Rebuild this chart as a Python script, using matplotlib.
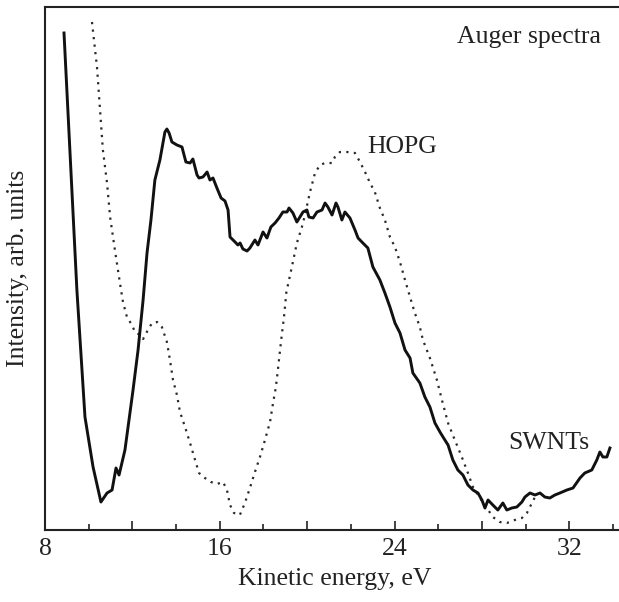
import matplotlib
matplotlib.use("Agg")
import matplotlib.pyplot as plt
from matplotlib.ticker import MultipleLocator

plt.rcParams['font.family'] = ['Liberation Serif', 'DejaVu Serif']

# SWNTs (solid) : kinetic energy (eV), intensity (arb. units)
swnt_e = [8.87, 9.46, 9.83, 10.20, 10.56, 10.84, 11.07, 11.25, 11.39, 11.66, 12.03, 12.26, 12.49,
          12.67, 12.85, 13.03, 13.26, 13.49, 13.58, 13.68, 13.81, 14.04, 14.27, 14.45, 14.64, 14.77,
          14.96, 15.05, 15.23, 15.42, 15.55, 15.69, 15.87, 16.06, 16.24, 16.38, 16.47, 16.70, 16.83,
          16.93, 17.06, 17.25, 17.38, 17.61, 17.75, 17.98, 18.16, 18.34, 18.53, 18.71, 18.89, 19.08,
          19.17, 19.35, 19.53, 19.67, 19.81, 19.99, 20.08, 20.27, 20.45, 20.68, 20.82, 20.95, 21.14,
          21.32, 21.41, 21.59, 21.73, 21.96, 22.19, 22.33, 22.55, 22.78, 23.01, 23.33, 23.56, 23.79,
          24.02, 24.25, 24.48, 24.71, 24.84, 25.16, 25.39, 25.62, 25.85, 26.08, 26.22, 26.45, 26.67,
          26.90, 27.13, 27.36, 27.59, 27.82, 28.00, 28.14, 28.28, 28.50, 28.73, 28.96, 29.14, 29.37,
          29.60, 29.83, 29.97, 30.20, 30.43, 30.66, 30.88, 31.11, 31.34, 31.57, 31.89, 32.17, 32.49,
          32.71, 33.03, 33.26, 33.40, 33.54, 33.72, 33.86]
swnt_i = [497, 240, 113, 63, 28, 37, 40, 62, 55, 80, 140, 180, 230,
          277, 310, 350, 370, 398, 401, 397, 388, 385, 383, 368, 367, 371,
          355, 352, 353, 358, 350, 352, 342, 332, 329, 320, 293, 288, 285,
          287, 281, 279, 282, 290, 285, 298, 292, 303, 307, 312, 318, 318,
          322, 317, 308, 313, 318, 320, 313, 312, 318, 320, 327, 323, 315,
          327, 323, 310, 318, 312, 300, 292, 287, 282, 263, 250, 237, 223,
          207, 197, 180, 172, 157, 147, 133, 123, 107, 98, 93, 85, 70,
          60, 55, 45, 40, 37, 30, 22, 30, 25, 20, 27, 20, 22,
          23, 28, 33, 37, 35, 37, 33, 32, 35, 37, 40, 42, 52,
          57, 60, 70, 78, 73, 73, 82]

# HOPG (dotted)
hopg_e = [10.15, 10.38, 10.52, 10.65, 10.84, 10.98, 11.20, 11.43, 11.57, 11.75, 11.98, 12.12, 12.35,
          12.49, 12.71, 12.90, 13.13, 13.35, 13.58, 13.72, 13.86, 14.04, 14.18, 14.41, 14.64, 14.87,
          15.05, 15.32, 15.60, 15.87, 16.15, 16.33, 16.47, 16.65, 16.92, 17.15, 17.38, 17.61, 17.84,
          18.07, 18.30, 18.44, 18.57, 18.66, 18.76, 18.85, 18.94, 19.05, 19.30, 19.53, 19.76, 19.90,
          20.13, 20.36, 20.59, 20.82, 21.14, 21.27, 21.50, 21.82, 22.19, 22.42, 22.65, 22.88, 23.10,
          23.33, 23.56, 23.79, 24.02, 24.25, 24.48, 24.71, 24.93, 25.16, 25.30, 25.62, 25.94, 26.17,
          26.45, 26.76, 27.08, 27.36, 27.59, 27.91, 28.23, 28.50, 28.82, 29.14, 29.51, 29.83, 30.06,
          30.29, 30.43]
hopg_i = [508, 463, 420, 380, 347, 313, 280, 247, 228, 213, 205, 198, 195,
          191, 200, 207, 208, 203, 188, 170, 150, 135, 118, 103, 87, 70,
          57, 52, 48, 46, 48, 40, 25, 17, 15, 27, 42, 58, 73,
          90, 108, 127, 143, 160, 180, 197, 213, 238, 263, 287, 303, 315,
          338, 357, 365, 367, 367, 373, 378, 378, 377, 368, 358, 347, 338,
          322, 310, 293, 283, 268, 250, 233, 217, 203, 190, 172, 150, 130,
          107, 90, 73, 57, 43, 32, 22, 13, 8, 7, 10, 12, 17,
          27, 33]

x_ticks = [8, 16, 24, 32]

fig = plt.figure(figsize=(6.19, 6.02), dpi=100)
ax = fig.add_axes([45/619, 72/602, 573/619, 523/602])

ax.plot(hopg_e, hopg_i, color='#2a2a2a', lw=1.6, linestyle=(0, (1, 2.4)))
ax.plot(swnt_e, swnt_i, color='#111111', lw=2.1, solid_joinstyle='round')

ax.set_xlim(8, 34.23)
ax.set_ylim(0, 523)

ax.spines['right'].set_visible(False)
for s in ['left', 'bottom', 'top']:
    ax.spines[s].set_linewidth(1.5)
    ax.spines[s].set_color('#222222')

ax.xaxis.set_minor_locator(MultipleLocator(2))
ax.tick_params(axis='x', which='major', direction='in', length=6.5, width=1.2, labelsize=18.5, pad=6, top=False, color='#222222')
ax.tick_params(axis='x', which='minor', direction='in', length=4.3, width=1.2, top=False, color='#222222')
major = list(range(8, 35, 4))
ax.set_xticks(major)
ax.set_xticklabels([str(v) if v in x_ticks else "" for v in major], fontsize=18.5, color='#222222')
ax.set_yticks([])

ax.set_xlabel("Kinetic energy, eV", fontsize=18.5, color='#222222')
ax.xaxis.set_label_coords(0.505, -0.072)
ax.set_ylabel("Intensity, arb. units", fontsize=18.5, color='#222222')
ax.yaxis.set_label_coords(-0.028, 0.5)

ax.text(26.86, 487, "Auger spectra", fontsize=18.5, ha='left', va='baseline', color='#222222')
ax.text(22.74, 377, "HOPG", fontsize=18.5, ha='left', va='baseline', color='#222222')
ax.text(29.19, 81, "SWNTs", fontsize=18.5, ha='left', va='baseline', color='#222222')

fig.savefig("out.png", dpi=100)
